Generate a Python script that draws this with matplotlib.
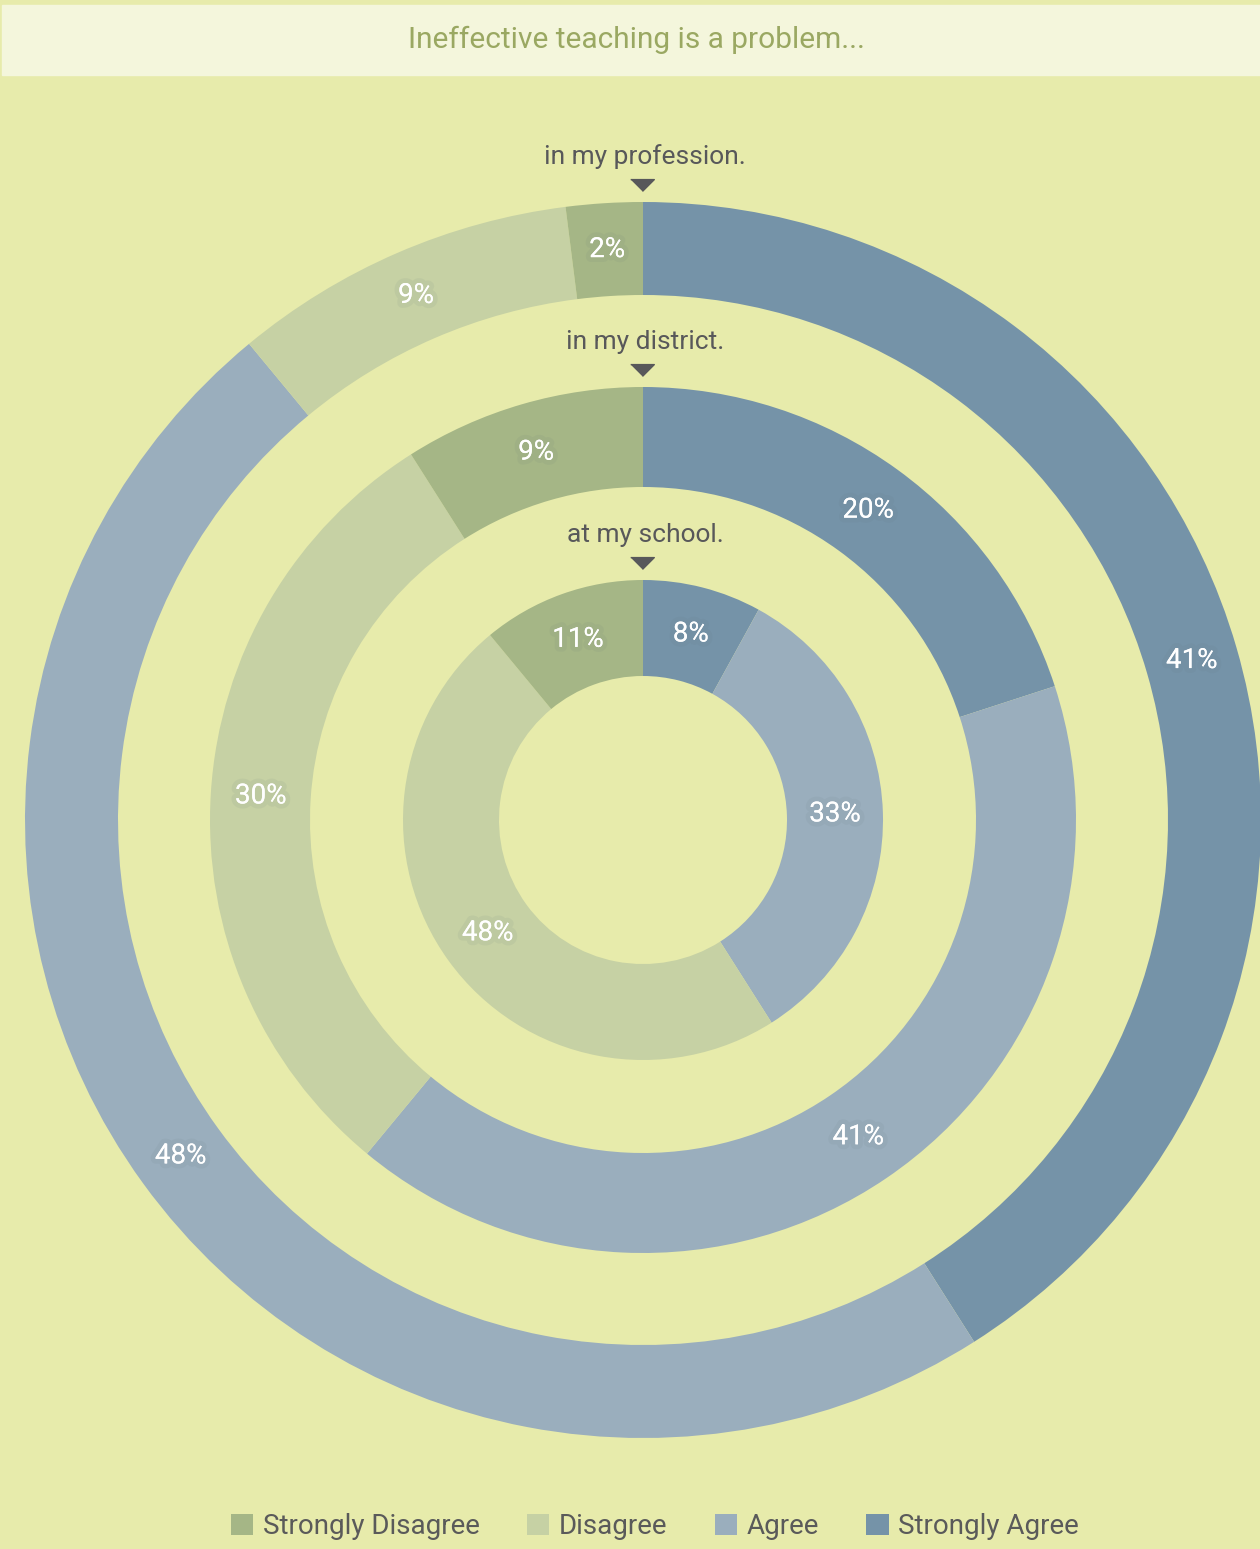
import matplotlib.pyplot as plt
import matplotlib.patheffects as pe
from matplotlib.patches import Patch, Rectangle
import numpy as np

plt.rcParams['font.family'] = ['Roboto', 'DejaVu Sans']

# data (clockwise from 12 o'clock): Strongly Agree, Agree, Disagree, Strongly Disagree
categories = ['Strongly Agree', 'Agree', 'Disagree', 'Strongly Disagree']
profession = [41, 48, 9, 2]
district = [20, 41, 30, 9]
school = [8, 33, 48, 11]
ring_titles = ['in my profession.', 'in my district.', 'at my school.']
legend_order = ['Strongly Disagree', 'Disagree', 'Agree', 'Strongly Agree']

colors = {'Strongly Disagree': '#a5b686', 'Disagree': '#c6d1a4',
          'Agree': '#9aaebd', 'Strongly Agree': '#7593a8'}
bg = '#e7ebab'

W, H = 1260, 1549
fig = plt.figure(figsize=(12.6, 15.49), dpi=100, facecolor=bg)
ax = fig.add_axes([0, 0, 1, 1])

# title band
ax.add_patch(Rectangle((2, H - 75), W, 70, color='#f4f6dc', zorder=1))
ax.text(636, H - 40, 'Ineffective teaching is a problem...', ha='center', va='center',
        fontsize=21.5, color='#9aa862', zorder=2)

cx, cy = 643, H - 820
rings = [(profession, 618, 93), (district, 433, 100), (school, 240, 96)]
cols = [colors[c] for c in categories]
glow = [pe.withStroke(linewidth=7, foreground='#5f6f78', alpha=0.08), pe.Normal()]
pointer = [(-1, 0.5), (1, 0.5), (0, -0.5)]

for (vals, r, w), title in zip(rings, ring_titles):
    ax.pie(vals, colors=cols, radius=r, center=(cx, cy), startangle=90, counterclock=False,
           wedgeprops=dict(width=w, linewidth=0), frame=True)
    # percentage labels
    start = 90.0
    tot = sum(vals)
    rm = r - w / 2
    for v in vals:
        mid = np.deg2rad(start - v / tot * 360 / 2)
        start -= v / tot * 360
        ax.text(cx + rm * np.cos(mid), cy + rm * np.sin(mid), f'{v}%', ha='center', va='center',
                fontsize=20, color='white', zorder=5, path_effects=glow)
    # ring title + pointer
    ax.text(cx + 2, cy + r + 45, title, ha='center', va='center', fontsize=19, color='#58585a')
    ax.plot([cx - 1], [cy + r + 17], marker=pointer, markersize=17, color='#58585a',
            linestyle='none')

ax.set_xlim(0, W)
ax.set_ylim(0, H)
ax.set_aspect('equal')
ax.axis('off')

handles = [Patch(facecolor=colors[c], edgecolor='none', label=c) for c in legend_order]
fig.legend(handles=handles, loc='center', bbox_to_anchor=(0.52, 1 - 1527 / H), ncol=4,
           frameon=False, fontsize=20, handlelength=0.8, handleheight=0.8, handletextpad=0.35,
           columnspacing=1.7, labelcolor='#5a5a5a')

fig.savefig('out.png', dpi=100, facecolor=bg)
